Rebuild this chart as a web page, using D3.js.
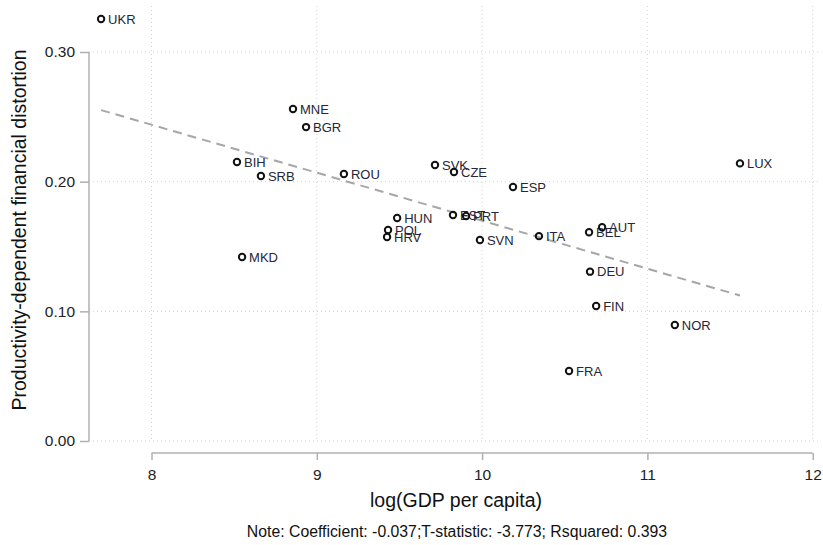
<!DOCTYPE html>
<html><head><meta charset="utf-8">
<script src="https://cdn.jsdelivr.net/npm/d3@7"></script>
<style>body{margin:0;background:#fff;}svg{display:block;font-family:"Liberation Sans",Arial,sans-serif;}</style>
</head><body>
<svg id="c" width="823" height="545"></svg>
<script>
const countries = ["UKR","MNE","BGR","BIH","SRB","ROU","SVK","CZE","ESP","HUN","POL","HRV","EST","PRT","SVN","ITA","BEL","AUT","DEU","FIN","LUX","NOR","FRA","MKD"];
const logGdp = [7.695,8.856,8.935,8.517,8.662,9.164,9.715,9.830,10.187,9.486,9.431,9.425,9.824,9.903,9.987,10.344,10.647,10.726,10.653,10.690,11.560,11.166,10.526,8.548];
const distortion = [0.3254,0.2560,0.2421,0.2152,0.2044,0.2059,0.2128,0.2074,0.1959,0.1720,0.1627,0.1573,0.1743,0.1735,0.1550,0.1580,0.1610,0.1648,0.1306,0.1041,0.2141,0.0895,0.0540,0.1419];
const xTicks = [8,9,10,11,12];
const yTicks = [0.00,0.10,0.20,0.30];
const fitIntercept = 0.5399, fitSlope = -0.037;
const note = "Note: Coefficient: -0.037;T-statistic: -3.773; Rsquared: 0.393";

const svg = d3.select("#c");
const x = d3.scaleLinear().domain([8,12]).range([151.5,812.7]);
const y = d3.scaleLinear().domain([0,0.30]).range([441,52]);
const plotLeft = 89, plotRight = 820, plotTop = 6;

// grid
svg.append("g").selectAll("line").data(yTicks).join("line")
  .attr("x1",plotLeft).attr("x2",plotRight).attr("y1",d=>y(d)).attr("y2",d=>y(d))
  .attr("stroke","#d4d4d4").attr("stroke-width",1).attr("stroke-dasharray","1,3");
svg.append("g").selectAll("line").data(xTicks).join("line")
  .attr("x1",d=>x(d)).attr("x2",d=>x(d)).attr("y1",plotTop).attr("y2",y(0))
  .attr("stroke","#d4d4d4").attr("stroke-width",1).attr("stroke-dasharray","1,3");

// axes
const yAxis = svg.append("g").attr("transform",`translate(${plotLeft},0)`)
  .call(d3.axisLeft(y).tickValues(yTicks).tickFormat(d3.format(".2f")).tickSize(9).tickPadding(5));
const xAxis = svg.append("g").attr("transform",`translate(0,453)`)
  .call(d3.axisBottom(x).tickValues(xTicks).tickFormat(d3.format("d")).tickSize(7).tickPadding(9));
[yAxis,xAxis].forEach(a=>{
  a.attr("font-size",null).attr("font-family",null);
  a.select(".domain").attr("stroke","#b0b0b0").attr("stroke-width",1.5);
  a.selectAll(".tick line").attr("stroke","#b0b0b0").attr("stroke-width",1.5);
  a.selectAll("text").style("font-size","15.5px").attr("fill","#222");
});
yAxis.select(".domain").attr("d",`M0,${y(0.30)}V${y(0)}`);
xAxis.select(".domain").attr("d",`M${x(8)},0H${x(12)}`);

// fit line
const xMin = d3.min(logGdp), xMax = d3.max(logGdp);
svg.append("line")
  .attr("x1",x(xMin)).attr("y1",y(fitIntercept+fitSlope*xMin))
  .attr("x2",x(xMax)).attr("y2",y(fitIntercept+fitSlope*xMax))
  .attr("stroke","#a6a6a6").attr("stroke-width",2).attr("stroke-dasharray","9,6");

// points
const data = countries.map((c,i)=>({c, gx:logGdp[i], gy:distortion[i]}));
const pts = svg.append("g").selectAll("g").data(data).join("g")
  .attr("transform",d=>`translate(${x(d.gx)},${y(d.gy)})`);
pts.append("circle").attr("r",3.2).attr("fill","none").attr("stroke","#111").attr("stroke-width",2);
pts.append("text").attr("x",7).attr("dy","0.36em").style("font-size","13px").attr("fill","#262636").text(d=>d.c);

// titles
svg.append("text").attr("x",456).attr("y",507).attr("text-anchor","middle").style("font-size","19.5px").attr("fill","#111").text("log(GDP per capita)");
svg.append("text").attr("transform","translate(26,230) rotate(-90)").attr("text-anchor","middle").style("font-size","19.5px").attr("fill","#111").text("Productivity-dependent financial distortion");
svg.append("text").attr("x",457).attr("y",537).attr("text-anchor","middle").style("font-size","15.8px").attr("fill","#111").text(note);
</script>
</body></html>
